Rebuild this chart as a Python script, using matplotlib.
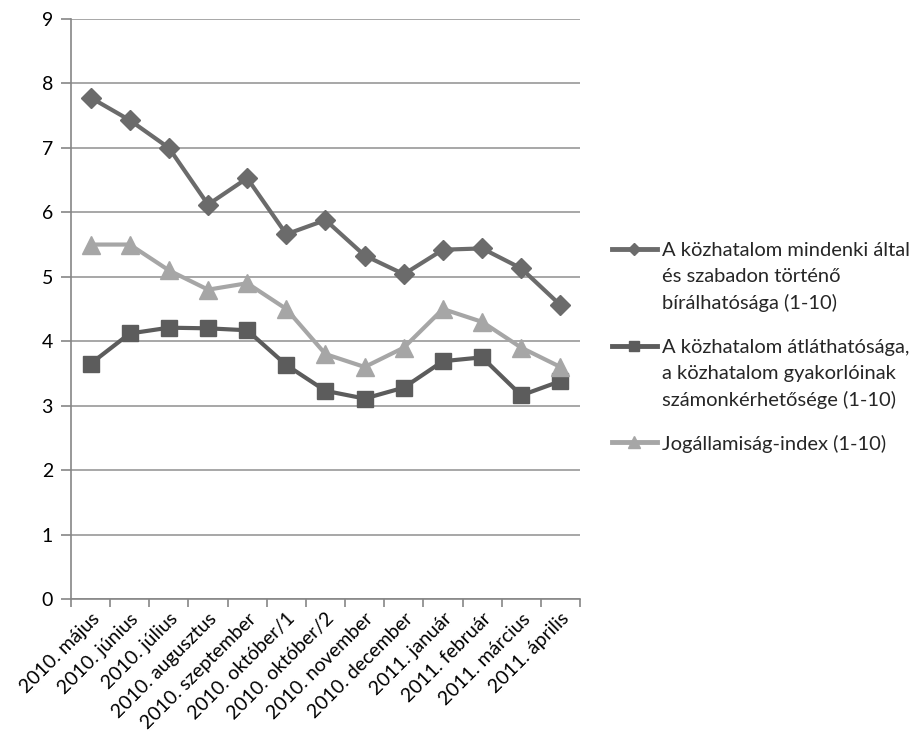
import matplotlib
matplotlib.use("Agg")
import matplotlib.pyplot as plt
from matplotlib.lines import Line2D
import numpy as np

plt.rcParams['font.family'] = ['Lato', 'DejaVu Sans']

# categories (months of the survey)
honapok = ["2010. május", "2010. június", "2010. július", "2010. augusztus",
           "2010. szeptember", "2010. október/1", "2010. október/2", "2010. november",
           "2010. december", "2011. január", "2011. február", "2011. március",
           "2011. április"]

# series values
biralhatosag = [7.78, 7.43, 7.00, 6.12, 6.53, 5.66, 5.88, 5.33, 5.04, 5.42, 5.44, 5.13, 4.56]
atlathatosag = [3.65, 4.12, 4.21, 4.20, 4.17, 3.63, 3.23, 3.11, 3.28, 3.69, 3.75, 3.16, 3.38]
jogallamisag = [5.5, 5.5, 5.1, 4.8, 4.9, 4.5, 3.8, 3.6, 3.9, 4.5, 4.3, 3.9, 3.6]

# legend labels, one list of lines per series
cimkek = [["A közhatalom mindenki által", "és szabadon történő", "bírálhatósága (1-10)"],
          ["A közhatalom átláthatósága,", "a közhatalom gyakorlóinak", "számonkérhetősége (1-10)"],
          ["Jogállamiság-index (1-10)"]]

W, H = 920, 740
fig = plt.figure(figsize=(W / 100, H / 100), dpi=100)
ax = fig.add_axes([71 / W, 1 - 599 / H, 509 / W, 580 / H])

x = np.arange(len(honapok))
stilusok = [dict(color="#6b6b6b", marker="D", ms=10),
            dict(color="#5c5c5c", marker="s", ms=12),
            dict(color="#a6a6a6", marker="^", ms=13)]
for adat, st in zip([biralhatosag, atlathatosag, jogallamisag], stilusok):
    ax.plot(x, adat, lw=3, zorder=3, **st)

ax.set_xlim(-0.5, len(honapok) - 0.5)
ax.set_ylim(0, 9)
ax.set_yticks(range(0, 10))
ax.yaxis.grid(True, color="#a0a0a0", lw=1.3)
ax.set_axisbelow(True)

# category ticks at the boundaries, labels at the centres
ax.set_xticks(x)
ax.set_xticklabels(honapok, rotation=45, ha="right", rotation_mode="anchor", fontsize=14)
ax.set_xticks(np.arange(-0.5, len(honapok)), minor=True)
ax.tick_params(axis="x", which="major", length=0, pad=8)
ax.tick_params(axis="x", which="minor", length=6, color="#868686", width=1.2)
ax.tick_params(axis="y", length=7, color="#868686", width=1.2, labelsize=14, pad=6)

for s in ["top", "right"]:
    ax.spines[s].set_visible(False)
for s in ["left", "bottom"]:
    ax.spines[s].set_color("#868686")
    ax.spines[s].set_linewidth(1.2)

# legend drawn by hand so the key sits on the first line of each label
elso_sor = [249, 346, 442]
sorkoz = 26
for cimke, st, y0 in zip(cimkek, stilusok, elso_sor):
    fy = 1 - y0 / H
    fig.add_artist(Line2D([612 / W, 657 / W], [fy, fy], transform=fig.transFigure,
                          color=st["color"], lw=3.5))
    fig.add_artist(Line2D([634.5 / W], [fy], transform=fig.transFigure, color=st["color"],
                          marker=st["marker"], ms=st["ms"] * 0.65, lw=0))
    for i, sor in enumerate(cimke):
        fig.text(662 / W, 1 - (y0 + i * sorkoz) / H, sor, fontsize=14.5,
                 color="#262626", va="center_baseline", ha="left")

fig.savefig("out.png", dpi=100)
